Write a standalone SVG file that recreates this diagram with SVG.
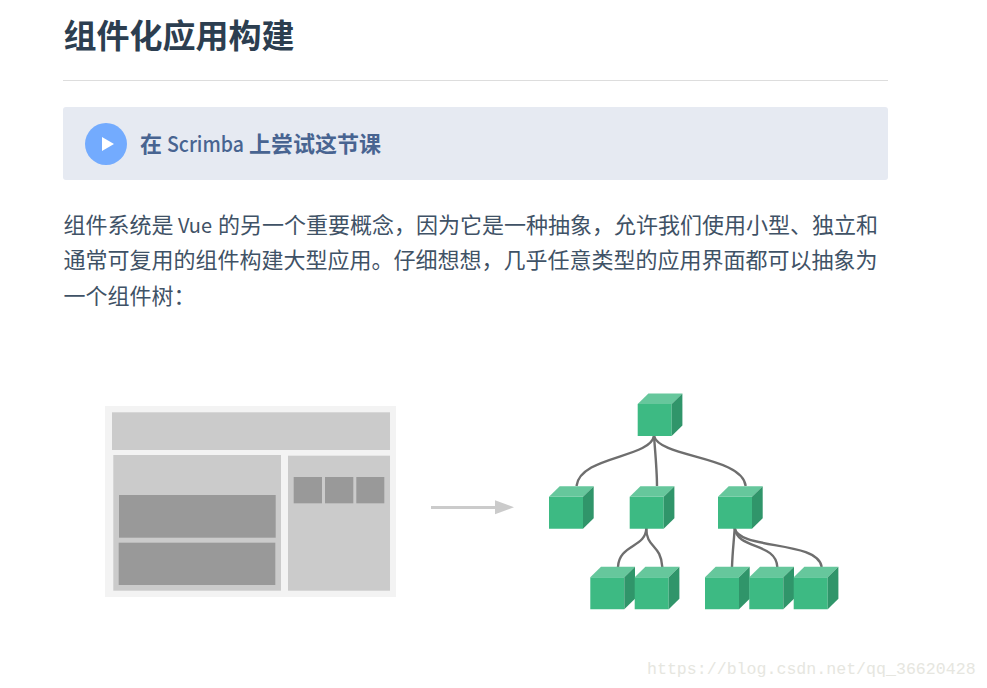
<svg xmlns="http://www.w3.org/2000/svg" width="987" height="688" viewBox="0 0 987 688">
<style>
text{font-family:"Noto Sans CJK SC","Noto Sans",sans-serif}
.b{font-size:22px;fill:#3f5266}
.f{fill:#3dba83}.t{fill:#66c79c}.s{fill:#30956a}
.c{fill:none;stroke:#6e6e6e;stroke-width:2.4}
.l{fill:#cbcbcb}.d{fill:#999}
</style>
<defs>
<g id="cube">
<polygon class="f" points="0,0 34,0 34,32 0,32"/>
<polygon class="t" points="0,0 10.7,-10.5 44.7,-10.5 34,0"/>
<polygon class="s" points="34,0 44.7,-10.5 44.7,21.5 34,32"/>
</g>
</defs>
<rect width="987" height="688" fill="#fff"/>
<text x="63.5" y="48" font-size="33" font-weight="700" fill="#2c3e50">组件化应用构建</text>
<rect x="63" y="80" width="825" height="1" fill="#ddd"/>
<g id="scrimba">
<rect x="63" y="107" width="825" height="73" rx="3" fill="#e6eaf2"/>
<circle cx="106" cy="144" r="21" fill="#73abfe"/>
<polygon points="102,137 102,151 114,144" fill="#fff"/>
<text y="152" font-size="22" font-weight="700" fill="#486491"><tspan x="140">在</tspan><tspan x="167" font-size="21" font-weight="500" textLength="77" lengthAdjust="spacingAndGlyphs">Scrimba</tspan><tspan x="249">上尝试这节课</tspan></text>
</g>
<text class="b" y="233"><tspan x="63.5">组件系统是</tspan><tspan x="178" font-size="20" textLength="34" lengthAdjust="spacingAndGlyphs">Vue</tspan><tspan x="218">的另一个重要概念，因为它是一种抽象，允许我们使用小型、独立和</tspan></text>
<text class="b" x="63.5" y="268">通常可复用的组件构建大型应用。仔细想想，几乎任意类型的应用界面都可以抽象为</text>
<text class="b" x="63.5" y="304">一个组件树：</text>
<g id="layout">
<rect x="105" y="406" width="291" height="191" fill="#f3f3f3"/>
<rect class="l" x="112" y="412.3" width="278" height="37.7"/>
<rect class="l" x="113.3" y="455" width="167.7" height="135.7"/>
<rect class="l" x="288" y="455.7" width="102" height="135"/>
<rect class="d" x="119" y="495" width="156.7" height="42.7"/>
<rect class="d" x="118.7" y="542.7" width="156.6" height="42.3"/>
<rect class="d" x="293.7" y="477" width="28.3" height="26.3"/>
<rect class="d" x="325" y="477" width="28.3" height="26.3"/>
<rect class="d" x="356.3" y="477" width="28" height="26.3"/>
</g>
<g id="arrow">
<rect x="431" y="506" width="65" height="3" fill="#cbcbcb"/>
<polygon points="495,500.3 514,507.3 495,514.3" fill="#cbcbcb"/>
</g>
<g id="connectors">
<path class="c" d="M654 436C650 458 580 456 576.5 486"/>
<path class="c" d="M654 436C655 450 657 470 657 486"/>
<path class="c" d="M654 436C660 458 742 456 745.7 486"/>
<path class="c" d="M646.3 528C646 548 619 544 618 567"/>
<path class="c" d="M646.3 528C646 548 661 544 662.3 567"/>
<path class="c" d="M734.7 528C734 540 732.5 552 732 567"/>
<path class="c" d="M734.7 528C737 550 776 542 777.3 567"/>
<path class="c" d="M734.7 528C738 550 818 540 821.7 567"/>
</g>
<use id="n0" href="#cube" x="637.7" y="404"/>
<use id="n1" href="#cube" x="549" y="496.7"/>
<use id="n2" href="#cube" x="629.7" y="496.7"/>
<use id="n3" href="#cube" x="718" y="496.7"/>
<use id="n4" href="#cube" x="590.3" y="577.3"/>
<use id="n5" href="#cube" x="634.7" y="577.3"/>
<use id="n6" href="#cube" x="705" y="577.3"/>
<use id="n7" href="#cube" x="749.3" y="577.3"/>
<use id="n8" href="#cube" x="793.7" y="577.3"/>
<text x="647" y="674" font-size="16.6" fill="#e6e6e0" style="font-family:'Liberation Mono',monospace">https://blog.csdn.net/qq_36620428</text>
</svg>
